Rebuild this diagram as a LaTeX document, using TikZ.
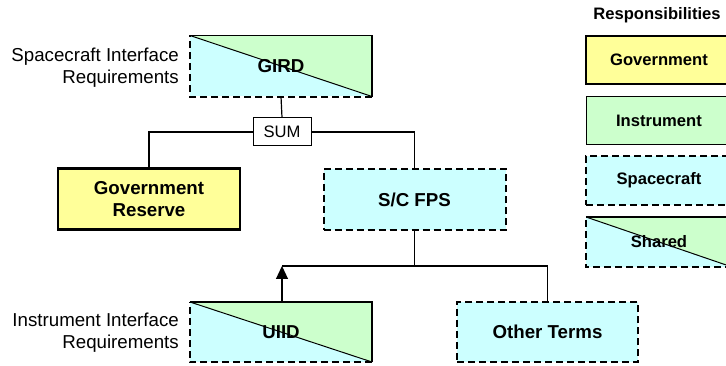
\documentclass[tikz,border=0pt]{standalone}
\usepackage{fontspec}
\setmainfont{Liberation Sans}
\usetikzlibrary{arrows.meta}
\definecolor{govyellow}{HTML}{FFFF99}
\definecolor{instgreen}{HTML}{CCFFCC}
\definecolor{sccyan}{HTML}{CCFFFF}
\newcommand{\bigbf}{\fontsize{18.7}{22}\selectfont\bfseries}
\newcommand{\bigrm}{\fontsize{18.7}{22}\selectfont}
\newcommand{\smallbf}{\fontsize{16.6}{20}\selectfont\bfseries}
\newcommand{\smallrm}{\fontsize{16.6}{20}\selectfont}
\tikzset{
  boxbase/.style={rectangle, inner sep=0pt, align=center},
  mainbox/.style={boxbase, minimum width=182pt, minimum height=61pt, font=\bigbf},
  legbox/.style={boxbase, minimum width=146pt, minimum height=48pt, font=\smallbf},
  govstyle/.style={draw, fill=govyellow, line width=2.5pt},
  inststyle/.style={draw, fill=instgreen, line width=1pt},
  scstyle/.style={draw, fill=sccyan, line width=2pt, dash pattern=on 7pt off 4pt},
  sharedstyle/.style={fill=sccyan, path picture={
     \fill[instgreen] (path picture bounding box.north west) -- (path picture bounding box.north east) -- (path picture bounding box.south east) -- cycle;
     \draw[line width=1pt] (path picture bounding box.north west) -- (path picture bounding box.south east);}},
  solidedge/.style={line width=1.5pt},
  dashededge/.style={line width=2pt, dash pattern=on 7pt off 4pt},
  conn/.style={line width=1.2pt},
  sidelabel/.style={align=right, anchor=east, font=\bigrm, inner sep=0pt}
}
\begin{document}
\begin{tikzpicture}[x=1pt,y=-1pt]
\useasboundingbox (0,0) rectangle (726,366);
% main boxes
\node[mainbox, sharedstyle] (gird) at (281,66) {GIRD};
\draw[solidedge] (gird.north west) -- (gird.north east) -- (gird.south east);
\draw[dashededge] (gird.south east) -- (gird.south west) -- (gird.north west);
\node[boxbase, draw, line width=1pt, minimum width=58pt, minimum height=28pt, font=\smallrm] (sum) at (282,132) {SUM};
\node[mainbox, govstyle] (gr) at (149,199) {Government\\Reserve};
\node[mainbox, scstyle] (scfps) at (414.5,199.5) {S/C FPS};
\node[mainbox, sharedstyle, minimum height=60pt] (uiid) at (281,332) {UIID};
\draw[solidedge] (uiid.north west) -- (uiid.north east) -- (uiid.south east);
\draw[dashededge] (uiid.south east) -- (uiid.south west) -- (uiid.north west);
\node[mainbox, scstyle, minimum width=181pt, minimum height=60pt] (other) at (547.5,332) {Other Terms};
% side labels
\node[sidelabel] (sir) at (179,68) {Spacecraft Interface\\Requirements};
\node[sidelabel] (iir) at (179,332.5) {Instrument Interface\\Requirements};
% connectors
\draw[conn] (gird.south) -- (sum.north);
\draw[conn] (sum.west) -| (gr.north);
\draw[conn] (sum.east) -| (scfps.north);
\coordinate (bar) at (414.5,266);
\coordinate (barl) at (282,266);
\draw[conn] (scfps.south) -- (bar);
\draw[conn] (barl) -- (bar) -| (other.north);
\draw[conn, -{Triangle[width=12pt,length=13pt]}] (uiid.north -| barl) -- (barl);
% legend
\node[font=\smallbf, inner sep=0pt] (resp) at (657,15) {Responsibilities};
\node[legbox, govstyle] (lgov) at (659,60) {Government};
\node[legbox, inststyle] (linst) at (659,121) {Instrument};
\node[legbox, scstyle, minimum height=49pt] (lsc) at (659,180.5) {Spacecraft};
\node[legbox, sharedstyle, minimum height=50pt] (lsh) at (659,242) {Shared};
\draw[solidedge] (lsh.north west) -- (lsh.north east) -- (lsh.south east);
\draw[dashededge] (lsh.south east) -- (lsh.south west) -- (lsh.north west);
\end{tikzpicture}
\end{document}
